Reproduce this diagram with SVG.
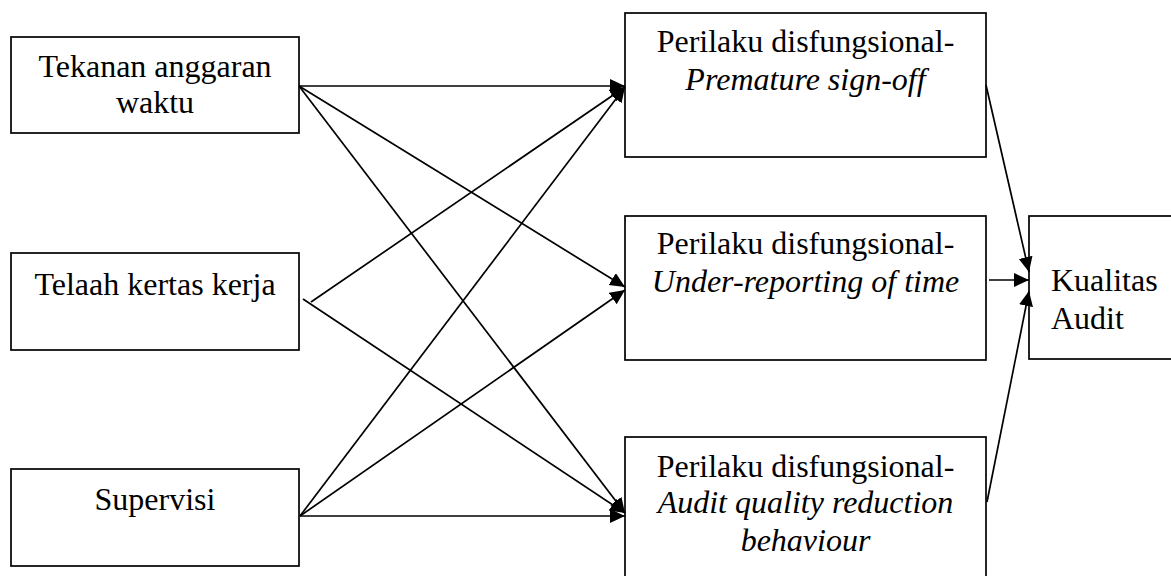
<svg xmlns="http://www.w3.org/2000/svg" width="1171" height="576" viewBox="0 0 1171 576">
<style>
.box{fill:#fff;stroke:#000;stroke-width:1.7}
.t{font-family:"Liberation Serif","Times New Roman",serif;font-size:32px;fill:#000}
.c{text-anchor:middle}
.i{font-style:italic}
.ln{stroke:#000;stroke-width:1.7;fill:none;marker-end:url(#ah)}
</style>
<defs>
<marker id="ah" markerUnits="userSpaceOnUse" markerWidth="17" markerHeight="16" refX="15" refY="7" orient="auto">
<path d="M0,0 L15,7 L0,14 z" fill="#000"/>
</marker>
</defs>
<rect width="1171" height="576" fill="#fff"/>
<g id="n-tekanan">
<rect class="box" x="11" y="37" width="288" height="96"/>
<text class="t c" x="155" y="77">Tekanan anggaran</text>
<text class="t c" x="155" y="113">waktu</text>
</g>
<g id="n-telaah">
<rect class="box" x="11" y="253" width="288" height="97"/>
<text class="t c" x="155" y="295">Telaah kertas kerja</text>
</g>
<g id="n-supervisi">
<rect class="box" x="11" y="469" width="288" height="97"/>
<text class="t c" x="155" y="510">Supervisi</text>
</g>
<g id="n-premature">
<rect class="box" x="625" y="13" width="361" height="144"/>
<text class="t c" x="805.5" y="52">Perilaku disfungsional-</text>
<text class="t c i" x="805.5" y="90">Premature sign-off</text>
</g>
<g id="n-underreporting">
<rect class="box" x="625" y="216" width="361" height="144"/>
<text class="t c" x="805.5" y="254">Perilaku disfungsional-</text>
<text class="t c i" x="805.5" y="292">Under-reporting of time</text>
</g>
<g id="n-aqrb">
<rect class="box" x="625" y="437" width="361" height="150"/>
<text class="t c" x="805.5" y="477">Perilaku disfungsional-</text>
<text class="t c i" x="805.5" y="513">Audit quality reduction</text>
<text class="t c i" x="805.5" y="551">behaviour</text>
</g>
<g id="n-kualitas">
<rect class="box" x="1029" y="216" width="160" height="143"/>
<text class="t" x="1051" y="291">Kualitas</text>
<text class="t" x="1051" y="329">Audit</text>
</g>
<g id="connectors">
<line class="ln" x1="299" y1="86" x2="625" y2="86"/>
<line class="ln" x1="299" y1="86" x2="625" y2="287"/>
<line class="ln" x1="299" y1="86" x2="625" y2="513"/>
<line class="ln" x1="311" y1="302" x2="625" y2="87"/>
<line class="ln" x1="303" y1="299" x2="625" y2="513"/>
<line class="ln" x1="300" y1="516" x2="625" y2="87"/>
<line class="ln" x1="300" y1="516" x2="625" y2="290"/>
<line class="ln" x1="300" y1="516" x2="625" y2="516"/>
<line class="ln" x1="986" y1="85" x2="1029" y2="272"/>
<line class="ln" x1="989" y1="280" x2="1029" y2="280"/>
<line class="ln" x1="987" y1="502" x2="1029" y2="291"/>
</g>
</svg>
